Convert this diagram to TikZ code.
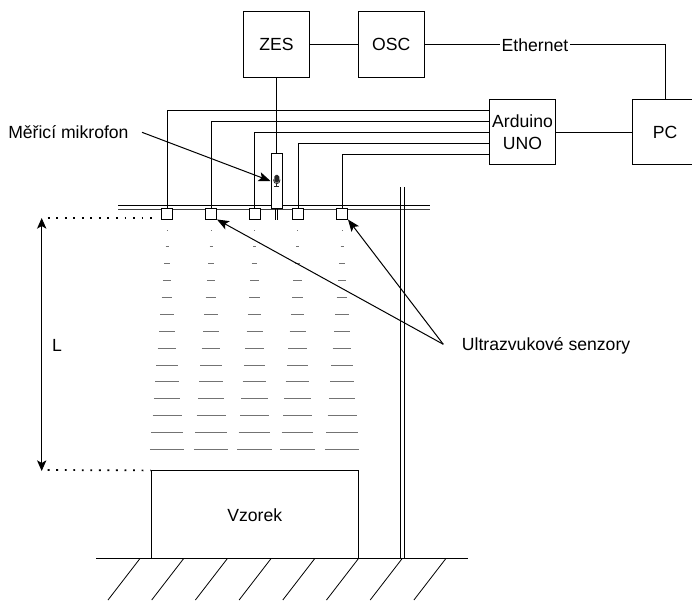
\documentclass[tikz,border=0pt]{standalone}
\usepackage{fontspec}
\setmainfont{Liberation Sans}
\usetikzlibrary{arrows.meta}
\tikzset{
    blok/.style={draw, fill=white, line width=0.8pt, inner sep=0pt, minimum width=49.2pt, minimum height=49.2pt},
    senzor/.style={draw, fill=white, line width=0.7pt, inner sep=0pt, minimum width=8.25pt, minimum height=8.25pt},
    vodic/.style={line width=0.75pt},
    sipka/.style={line width=0.75pt, -{Stealth[length=9pt, width=7pt, inset=2pt]}},
    tecky/.style={line width=1.3pt, dash pattern=on 1.4pt off 5pt},
    popis/.style={inner sep=0pt, font=\fontsize{13.2}{15}\selectfont}
}
\begin{document}
\begin{tikzpicture}[x=0.75pt, y=-0.75pt, popis]
    \useasboundingbox (0,0) rectangle (692,601);
    % bloky:
    \node[blok] (zes) at (276.5,44.5) {ZES};
    \node[blok] (osc) at (391.3,44.5) {OSC};
    \node[blok, align=center] (arduino) at (522.5,132) {Arduino\\[1.2pt]UNO};
    \node[blok] (pc) at (665,132) {PC};
    \draw[vodic] (zes) -- (osc);
    \draw[vodic] (arduino) -- (pc);
    \draw[vodic] (osc.east) -| (pc.north);
    \node[fill=white, inner xsep=1pt, inner ysep=1pt] (ethernet) at (535,45.5) {Ethernet};
    % deska:
    \draw[vodic] (118,205.7) -- (430,205.7);
    \draw[line width=0.6pt, black!75] (118,209.3) -- (430,209.3);
    % stojan:
    \draw[line width=0.6pt] (400.5,187) -- (400.5,558.5);
    \draw[line width=0.6pt] (404.5,187) -- (404.5,558.5);
    % senzory a vodice:
    \foreach \name/\posx/\posy in {s1/167/110, s2/211/121, s3/254.5/132, s4/298/143, s5/342/154}{
        \node[senzor] (\name) at (\posx,213.5) {};
        \coordinate (a\name) at (489.3,\posy);
        \draw[vodic] (\name.north) |- (a\name);
    }
    % vlny:
    \foreach \posx in {167,211,254.5,297.5,342}{
        \foreach \i in {0,...,13}{
            \pgfmathsetmacro{\hw}{0.2+1.3*\i}
            \pgfmathsetmacro{\ry}{230+16.87*\i}
            \draw[line width=0.6pt, black!55] (\posx-\hw,\ry) -- (\posx+\hw,\ry);
        }
    }
    % mikrofon:
    \node[draw, fill=white, line width=0.8pt, inner sep=0pt, minimum width=8.5pt, minimum height=40.9pt] (mic) at (276.7,181) {};
    \draw[vodic] (zes.south) -- (zes.south |- mic.north);
    \draw[line width=0.6pt] (275.6,208.3) -- (275.6,220);
    \draw[line width=0.6pt] (277.8,208.3) -- (277.8,220);
    % ikona mikrofonu:
    \fill[black!85, rounded corners=1.4pt] (274.3,174.8) rectangle (279.3,182.6);
    \draw[line width=0.6pt, black!85] (273.5,179.5) .. controls (273.5,185) and (280.1,185) .. (280.1,179.5);
    \draw[line width=0.6pt, black!85] (276.8,183.6) -- (276.8,186.3) (274.2,186.3) -- (279.4,186.3);
    % vzorek a zem:
    \node[draw, line width=0.8pt, minimum width=155.5pt, minimum height=65.8pt, inner sep=0pt] (vzorek) at (254.7,514.8) {Vzorek};
    \draw[vodic] (96,558.5) -- (467.7,558.5);
    \foreach \i in {0,...,7}{
        \draw[line width=0.6pt] (140+43.7*\i,558.5) -- (108+43.7*\i,600);
    }
    % popisky:
    \node[anchor=west] (miclabel) at (8,132.5) {Měřicí mikrofon};
    \node[anchor=west] (senzorylabel) at (461.7,345.5) {Ultrazvukové senzory};
    \node (llabel) at (57,345) {L};
    % sipky:
    \coordinate (micstart) at (142,132.3);
    \coordinate (senzorystart) at (443.3,344.3);
    \draw[sipka] (micstart) -- (mic.west);
    \draw[sipka] (senzorystart) -- (s2.south east);
    \draw[sipka] (senzorystart) -- (s5.south east);
    % vzdalenost L:
    \coordinate (ltop) at (41.7,218);
    \coordinate (lbot) at (41.7,471);
    \coordinate (dotend) at (158,218);
    \draw[line width=0.75pt, {Stealth[length=8pt, width=7pt, inset=2pt]}-{Stealth[length=8pt, width=7pt, inset=2pt]}] (ltop) -- (lbot);
    \draw[tecky] (ltop) ++(6,0) -- (dotend);
    \draw[tecky] (lbot) ++(6,-1) -- (vzorek.north west);
\end{tikzpicture}
\end{document}
